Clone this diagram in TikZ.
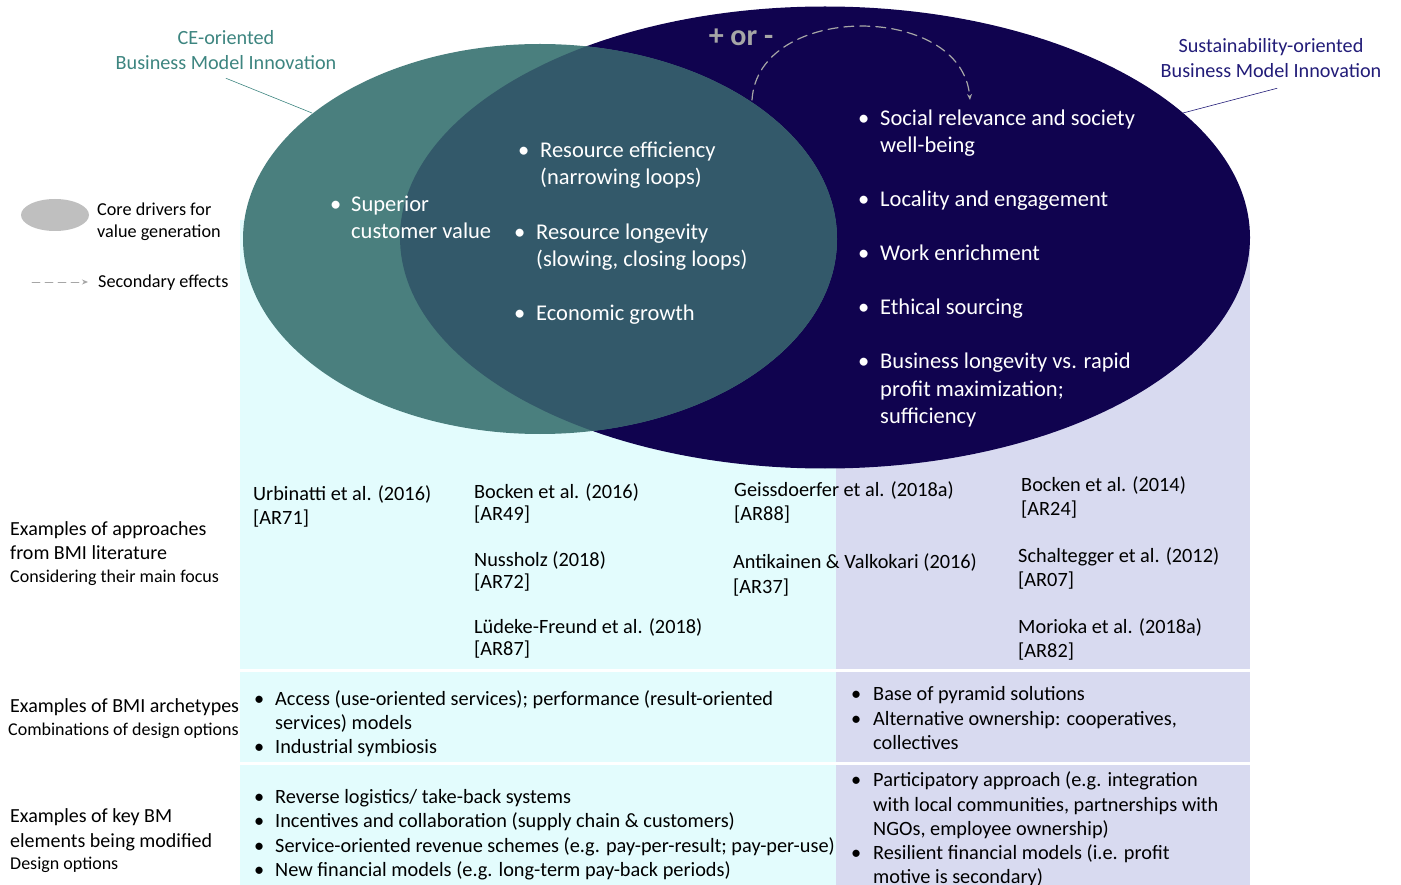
\documentclass[tikz,border=0pt]{standalone}
\usepackage{fontspec}
\setmainfont{Carlito}
\usetikzlibrary{arrows.meta}
\definecolor{ceteal}{HTML}{4A7F7E}
\definecolor{overlap}{HTML}{33596A}
\definecolor{sonavy}{HTML}{10034F}
\definecolor{cebg}{HTML}{E3FCFD}
\definecolor{sobg}{HTML}{D8DAF0}
\definecolor{cetitle}{HTML}{3D8580}
\definecolor{sotitle}{HTML}{221C78}
\definecolor{legendgrey}{HTML}{BFBFBF}
\definecolor{effgrey}{HTML}{A6A6A6}
\begin{document}
\begin{tikzpicture}[x=1pt, y=-1pt, line cap=round, line join=round, >={Stealth[length=6pt,width=5pt]}]
	\tikzset{
		wtxt/.style={anchor=base west, inner sep=0pt, text=white, font=\fontsize{22.5}{27}\selectfont},
		btxt/.style={anchor=base west, inner sep=0pt, text=black, font=\fontsize{20.3}{24}\selectfont},
		rowlbl/.style={anchor=base west, inner sep=0pt, text=black, font=\fontsize{20}{24}\selectfont},
		rowsub/.style={anchor=base west, inner sep=0pt, text=black, font=\fontsize{18}{22}\selectfont},
		ttl/.style={align=center, inner sep=0pt, font=\fontsize{20.2}{25}\selectfont},
		lgd/.style={anchor=base west, inner sep=0pt, font=\fontsize{18.2}{22}\selectfont},
		effect/.style={effgrey, dash pattern=on 10pt off 6pt, line width=1.2pt}
	}
	\useasboundingbox (0,0) rectangle (1401,885);
	% backgrounds of the rows
	\fill[cebg] (240,220) rectangle (836,885);
	\fill[sobg] (836,237) rectangle (1250,885);
	\draw[white, line width=3pt, line cap=butt] (240,670) -- (1250,670);
	\draw[white, line width=3pt, line cap=butt] (240,763) -- (1250,763);
	% the two ellipses
	\fill[sonavy] (825,237.5) ellipse [x radius=425, y radius=231];
	\fill[ceteal] (540,239) ellipse [x radius=297, y radius=195];
	\begin{scope}
		\clip (540,239) ellipse [x radius=297, y radius=195];
		\fill[overlap] (825,237.5) ellipse [x radius=425, y radius=231];
	\end{scope}
	% titles
	\node[ttl, text=cetitle] (cettl) at (226,50.5) {CE-oriented\\Business Model Innovation};
	\node[ttl, text=sotitle] (sottl) at (1271,58.5) {Sustainability-oriented\\Business Model Innovation};
	\coordinate (ceedge) at (312,113);
	\coordinate (soedge) at (1183,113);
	\draw[cetitle, line width=0.6pt] ([yshift=-8pt]cettl.south) -- (ceedge);
	\draw[sotitle, line width=0.6pt] ([xshift=6pt,yshift=-10pt]sottl.south) -- (soedge);
	% secondary effects
	\node[text=effgrey, font=\bfseries\fontsize{30}{33}\selectfont, inner sep=0pt] (pm) at (741,37) {+ or -};
	\coordinate (effa) at (752,100);
	\coordinate (effb) at (970,100);
	\draw[effect, ->] (effa) .. controls (758,2) and (962,2) .. (effb);
	% legend
	\fill[legendgrey] (55,215) ellipse [x radius=34, y radius=16];
	\node[lgd] (lg1) at (97,215.5) {Core drivers for};
	\node[lgd] (lg2) at (97,237.5) {value generation};
	\coordinate (lga) at (32,282);
	\coordinate (lgb) at (88,282);
	\draw[effect, line width=0.9pt, dash pattern=on 8pt off 5pt, ->] (lga) -- (lgb);
	\node[lgd] (lg3) at (98,288) {Secondary effects};
	% drivers inside the ellipses
	\foreach \xx/\yy in {330/212, 518/158, 514/240, 514/321, 858/126, 858/207, 858/261, 858/315, 858/369}
		\node[wtxt] (b\xx-\yy) at (\xx,\yy) {\textbullet};
	\node[wtxt] (sup1) at (351,212) {Superior};
	\node[wtxt] (sup2) at (351,239) {customer value};
	\node[wtxt] (eff1) at (540,158) {Resource efficiency};
	\node[wtxt] (eff2) at (540,185) {(narrowing loops)};
	\node[wtxt] (lon1) at (536,240) {Resource longevity};
	\node[wtxt] (lon2) at (536,267) {(slowing, closing loops)};
	\node[wtxt] (eco) at (536,321) {Economic growth};
	\foreach \yy/\txt in {126/Social relevance and society, 153/well-being, 207/Locality and engagement, 261/Work enrichment, 315/Ethical sourcing, 369/Business longevity vs. rapid, 396/profit maximization;, 423/sufficiency}
		\node[wtxt] (s\yy) at (880,\yy) {\txt};
	% row labels
	\node[rowlbl] (r1a) at (10,535) {Examples of approaches};
	\node[rowlbl] (r1b) at (10,559) {from BMI literature};
	\node[rowsub] (r1c) at (10,582) {Considering their main focus};
	\node[rowlbl] (r2a) at (10,712) {Examples of BMI archetypes};
	\node[rowsub] (r2b) at (8,735) {Combinations of design options};
	\node[rowlbl] (r3a) at (10,822) {Examples of key BM};
	\node[rowlbl] (r3b) at (10,847) {elements being modified};
	\node[rowsub] (r3c) at (10,869) {Design options};
	% literature
	\foreach \xx/\yy/\txt in {253/500/Urbinatti et al. (2016), 253/524/[AR71],
		474/498/Bocken et al. (2016), 474/520/[AR49],
		474/566/Nussholz (2018), 474/588/[AR72],
		474/633/Lüdeke-Freund et al. (2018), 474/655/[AR87],
		734/496/Geissdoerfer et al. (2018a), 734/520/[AR88],
		733/568/Antikainen \& Valkokari (2016), 733/593/[AR37],
		1021/491/Bocken et al. (2014), 1021/515/[AR24],
		1018/562/Schaltegger et al. (2012), 1018/586/[AR07],
		1018/633/Morioka et al. (2018a), 1018/657/[AR82]}
		\node[btxt] (ref\xx-\yy) at (\xx,\yy) {\txt};
	% archetypes and design options
	\foreach \xx/\yy in {254/705, 254/753, 851/700, 851/725, 254/803, 254/827, 254/852, 254/876, 851/786, 851/859}
		\node[btxt] (d\xx-\yy) at (\xx,\yy) {\textbullet};
	\node[btxt] (a1) at (275,705) {Access (use-oriented services); performance (result-oriented};
	\node[btxt] (a2) at (275,729) {services) models};
	\node[btxt] (a3) at (275,753) {Industrial symbiosis};
	\node[btxt] (a4) at (873,700) {Base of pyramid solutions};
	\node[btxt] (a5) at (873,725) {Alternative ownership: cooperatives,};
	\node[btxt] (a6) at (873,749) {collectives};
	\node[btxt] (k1) at (275,803) {Reverse logistics/ take-back systems};
	\node[btxt] (k2) at (275,827) {Incentives and collaboration (supply chain \& customers)};
	\node[btxt] (k3) at (275,852) {Service-oriented revenue schemes (e.g. pay-per-result; pay-per-use)};
	\node[btxt] (k4) at (275,876) {New financial models (e.g. long-term pay-back periods)};
	\node[btxt] (k5) at (873,786) {Participatory approach (e.g. integration};
	\node[btxt] (k6) at (873,811) {with local communities, partnerships with};
	\node[btxt] (k7) at (873,835) {NGOs, employee ownership)};
	\node[btxt] (k8) at (873,859) {Resilient financial models (i.e. profit};
	\node[btxt] (k9) at (873,883) {motive is secondary)};
\end{tikzpicture}
\end{document}
